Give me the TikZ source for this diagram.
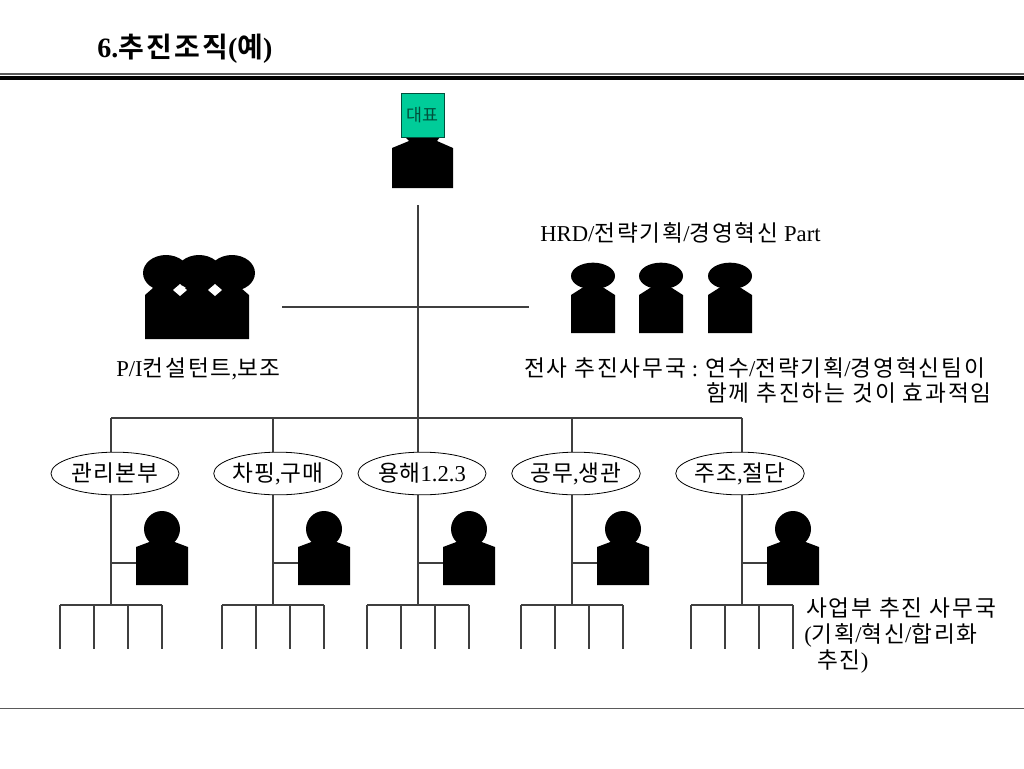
\documentclass[tikz,border=0pt]{standalone}
\usepackage{fontspec}
\usetikzlibrary{shapes.geometric}
\setmainfont{Liberation Serif}
\newfontfamily\kr[LetterSpace=8,WordSpace=1.0,Scale=1.0,BoldFont={Noto Sans CJK KR Bold}]{Noto Sans CJK KR}
\newfontfamily\kq[LetterSpace=4,Scale=1.0]{Noto Sans CJK KR}
\newcommand{\K}[1]{{\kr #1}}
\newcommand{\Q}[1]{{\kq #1}}
\definecolor{teal1}{RGB}{0,204,153}
\definecolor{rulegray}{RGB}{90,90,90}
\definecolor{tealink}{RGB}{0,80,60}
\tikzset{
  conn/.style={draw=rulegray!70!black,line width=0.9pt},
  org/.style={ellipse,draw=black,fill=white,line width=0.6pt,minimum width=96pt,minimum height=32pt,inner sep=0pt,font=\fontsize{17}{20}\selectfont},
  lbl/.style={anchor=west,inner sep=0pt,font=\fontsize{17}{20}\selectfont},
  staff/.pic={
    \fill[black] (0,-1) circle[radius=13.5pt];
    \fill[black] (-26,17) -- (-10,11) -- (10,11) -- (26,17) -- (26,55) -- (-26,55) -- cycle;
  },
  slim/.pic={
    \fill[black] (0,0) ellipse[x radius=16.5pt,y radius=10pt];
    \fill[black] (-22,19) -- (-11,12) -- (11,12) -- (22,19) -- (22,57) -- (-22,57) -- cycle;
  }
}
\begin{document}
\begin{tikzpicture}[x=0.75pt,y=-0.75pt]
\useasboundingbox (0,0) rectangle (1024,768);
% rules
\fill[rulegray] (0,73) rectangle (1024,74.5);
\fill[black] (0,76) rectangle (1024,80);
\fill[rulegray] (0,708) rectangle (1024,709);
% title
\node[lbl,font=\fontsize{21}{24}\selectfont\bfseries] (title) at (97,49) {6.\K{추진조직}(\K{예})};
% chief
\fill[black] (392,148) -- (409,141) -- (405,137) -- (440,137) -- (437,141) -- (453,148) -- (453,188) -- (392,188) -- cycle;
\node[draw=tealink,fill=teal1,line width=0.4pt,minimum width=32pt,minimum height=33pt,inner sep=0pt,text=tealink,font=\fontsize{13}{14}\selectfont] (chief) at (422.5,115) {\Q{대표}};
% main connectors
\coordinate (ctop) at (418,205);
\coordinate (cbar) at (418,418);
\coordinate (pl) at (282,307);
\coordinate (pr) at (529,307);
\draw[conn] (ctop) -- (cbar);
\draw[conn] (pl) -- (pr);
\coordinate (bl) at (111,418);
\coordinate (br) at (742,418);
\draw[conn] (bl) -- (br);
% consultants
\foreach \hx in {166,199,232} \fill[black] (\hx,273) ellipse[x radius=17.25pt,y radius=13.5pt];
\fill[black] (145,295) -- (153,288) -- (241,288) -- (249,295) -- (249,339) -- (145,339) -- cycle;
\fill[white] (173,290) -- (180,284) -- (187,290) -- (180,296) -- cycle;
\fill[white] (208,290) -- (215,284) -- (222,290) -- (215,296) -- cycle;
% part staff
\foreach \px in {593,661,730} \pic at (\px,276) {slim};
% labels
\node[lbl] (hrd) at (540,233) {HRD/\K{전략기획}/\K{경영혁신} Part};
\node[lbl] (pi) at (116,369) {P/I\K{컨설턴트},\K{보조}};
\node[lbl] (sec1) at (524,368) {\K{전사 추진사무국} : \K{연수}/\K{전략기획}/\K{경영혁신팀이}};
\node[lbl] (sec2) at (706,393) {\K{함께 추진하는 것이 효과적임}};
\node[lbl] (bu1) at (806,608) {\K{사업부 추진 사무국}};
\node[lbl] (bu2) at (804,635) {(\K{기획}/\K{혁신}/\K{합리화}};
\node[lbl] (bu3) at (817,662) {\K{추진})};
% divisions
\foreach \tx/\cx/\nm in {111/60/a,273/222/b,418/367/c,572/521/d,742/691/e}{
  \coordinate (top\nm) at (\tx,418);
  \coordinate (hub\nm) at (\tx,605);
  \coordinate (arm\nm) at (\tx+26,563);
  \coordinate (joint\nm) at (\tx,563);
  \draw[conn] (top\nm) -- (hub\nm);
  \draw[conn] (joint\nm) -- (arm\nm);
  \pic at (\tx+51,530) {staff};
  \coordinate (c0\nm) at (\cx,605);
  \coordinate (c3\nm) at (\cx+102,605);
  \draw[conn] (c0\nm) -- (c3\nm);
  \foreach \i in {0,34,68,102}{
    \coordinate (u) at (\cx+\i,605);
    \coordinate (v) at (\cx+\i,649);
    \draw[conn] (u) -- (v);
  }
}
\node[org] (ea) at (115,473.5) {\Q{관리본부}};
\node[org] (eb) at (278,473.5) {\Q{차핑},\Q{구매}};
\node[org] (ec) at (422,473.5) {\Q{용해}1.2.3};
\node[org] (ed) at (576,473.5) {\Q{공무},\Q{생관}};
\node[org] (ee) at (740,473.5) {\Q{주조},\Q{절단}};
\end{tikzpicture}
\end{document}
